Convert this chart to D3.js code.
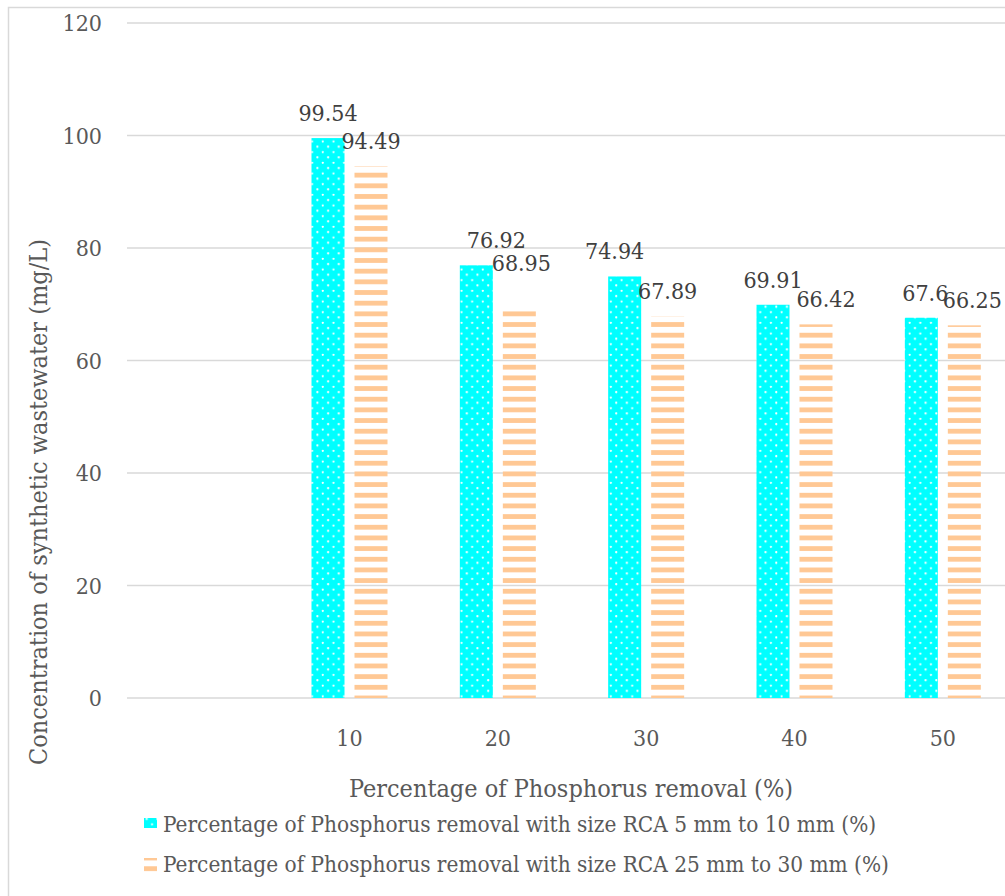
<!DOCTYPE html>
<html>
<head>
<meta charset="utf-8">
<script src="https://cdn.jsdelivr.net/npm/d3@7"></script>
<style>
  html, body { margin: 0; padding: 0; background: #fff; }
  svg { display: block; }
  text { font-family: "DejaVu Serif Condensed", "DejaVu Serif", serif; font-stretch: condensed; }
</style>
</head>
<body>
<svg id="chart" width="1005" height="896"></svg>
<script>
// Category slots along the x axis (the first slot is left empty)
const categories = ["", "10", "20", "30", "40", "50"];
const seriesNames = [
  "Percentage of Phosphorus removal with size RCA 5 mm to 10 mm (%)",
  "Percentage of Phosphorus removal with size RCA 25 mm to 30 mm (%)"
];
const rcaSmall = [null, 99.54, 76.92, 74.94, 69.91, 67.6];
const rcaLarge = [null, 94.49, 68.95, 67.89, 66.42, 66.25];
const yTicks = [0, 20, 40, 60, 80, 100, 120];

const svg = d3.select("#chart");
const plot = { left: 127, right: 1017, top: 23, bottom: 698 };

const defs = svg.append("defs");
// cyan fill with a staggered grid of white dots
const dots = defs.append("pattern").attr("id", "dots")
  .attr("patternUnits", "userSpaceOnUse").attr("width", 10.67).attr("height", 10.67);
dots.append("rect").attr("width", 10.67).attr("height", 10.67).attr("fill", "#00FFFF");
dots.append("circle").attr("cx", 2.7).attr("cy", 2.7).attr("r", 1.1).attr("fill", "#fff");
dots.append("circle").attr("cx", 8.0).attr("cy", 8.0).attr("r", 1.1).attr("fill", "#fff");
// orange horizontal stripes
const stripes = defs.append("pattern").attr("id", "stripes")
  .attr("patternUnits", "userSpaceOnUse").attr("width", 10.67).attr("height", 10.67)
  .attr("y", 2);
stripes.append("rect").attr("y", 0).attr("width", 10.67).attr("height", 4.8).attr("fill", "#FFC894");

// outer chart frame
svg.append("rect").attr("x", 8.5).attr("y", 7.5).attr("width", 1100).attr("height", 1000)
  .attr("fill", "none").attr("stroke", "#D9D9D9").attr("stroke-width", 1.5);

const x = d3.scaleBand().domain(categories).range([plot.left, plot.right]).padding(0);
const y = d3.scaleLinear().domain([0, 120]).range([plot.bottom, plot.top]);

const barW = 33, gap = 10;

// horizontal gridlines
svg.append("g").selectAll("line").data(yTicks).join("line")
  .attr("x1", plot.left).attr("x2", plot.right)
  .attr("y1", d => y(d)).attr("y2", d => y(d))
  .attr("stroke", "#D9D9D9").attr("stroke-width", 1.5);

// y tick labels
svg.append("g").selectAll("text").data(yTicks).join("text")
  .attr("x", 102).attr("y", d => y(d) + 8)
  .attr("text-anchor", "end").attr("font-size", 23).attr("fill", "#595959")
  .text(d => d);

// x tick labels
svg.append("g").selectAll("text").data(categories).join("text")
  .attr("x", d => x(d) + x.bandwidth() / 2).attr("y", 746)
  .attr("text-anchor", "middle").attr("font-size", 23).attr("fill", "#595959")
  .text(d => d);

const series = [
  { values: rcaSmall, fill: "url(#dots)", offset: -(gap / 2 + barW / 2) },
  { values: rcaLarge, fill: "url(#stripes)", offset: (gap / 2 + barW / 2) }
];

// hand-placed value labels: [dx, dy] per series and category
const labelNudge = [
  { "20": [20, 0], "30": [-10, 0], "50": [4, 0] },
  { "20": [2, 22], "40": [10, 0], "50": [8, 0] }
];

series.forEach((s, si) => {
  const data = categories.map((c, i) => ({ c, v: s.values[i] })).filter(d => d.v != null);
  const nudge = c => labelNudge[si][c] || [0, 0];
  const g = svg.append("g");
  g.selectAll("rect").data(data).join("rect")
    .attr("x", d => x(d.c) + x.bandwidth() / 2 + s.offset - barW / 2)
    .attr("width", barW)
    .attr("y", d => y(d.v))
    .attr("height", d => y(0) - y(d.v))
    .attr("fill", s.fill);
  g.selectAll("text").data(data).join("text")
    .attr("x", d => x(d.c) + x.bandwidth() / 2 + s.offset + nudge(d.c)[0])
    .attr("y", d => y(d.v) - 17 - nudge(d.c)[1])
    .attr("text-anchor", "middle").attr("font-size", 23).attr("fill", "#404040")
    .text(d => d.v);
});

// axis titles
svg.append("text").attr("x", 571).attr("y", 797).attr("text-anchor", "middle")
  .attr("font-size", 25).attr("fill", "#595959").text("Percentage of Phosphorus removal (%)");
svg.append("text").attr("transform", "translate(47,502) rotate(-90)").attr("text-anchor", "middle")
  .attr("font-size", 25).attr("fill", "#595959").text("Concentration of synthetic wastewater (mg/L)");

// legend
const legend = svg.append("g");
const legendRows = [
  { name: seriesNames[0], fill: "url(#dots)", y: 818, h: 10, ty: 832 },
  { name: seriesNames[1], fill: "url(#stripes)", y: 858, h: 14, ty: 872 }
];
legendRows.forEach(r => {
  legend.append("rect").attr("x", 144).attr("y", r.y).attr("width", 13).attr("height", r.h).attr("fill", r.fill);
  legend.append("text").attr("x", 163).attr("y", r.ty).attr("font-size", 22.4).attr("fill", "#595959").text(r.name);
});
</script>
</body>
</html>
